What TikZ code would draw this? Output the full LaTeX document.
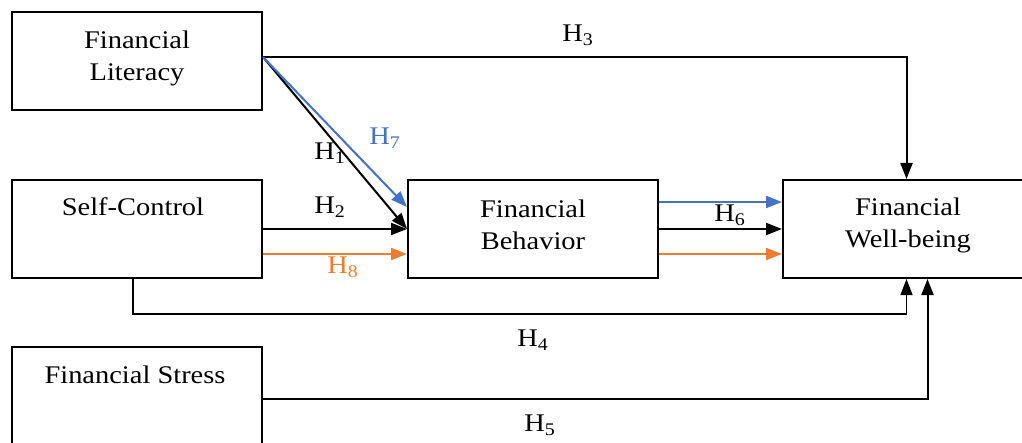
\documentclass[tikz,border=0pt]{standalone}
\usepackage{fontspec}
\setmainfont{Liberation Serif}[FakeStretch=1.12]
\usetikzlibrary{arrows.meta,calc}
\definecolor{hblue}{HTML}{4472C4}
\definecolor{horange}{HTML}{ED7D31}
\begin{document}
\begin{tikzpicture}[x=0.5pt,y=-0.5pt,
  box/.style={draw,line width=1pt,inner sep=0pt},
  txt/.style={align=center,inner sep=0pt,font=\fontsize{12.7}{16}\selectfont},
  lab/.style={inner sep=0pt,font=\fontsize{12.7}{15}\selectfont},
  conn/.style={line width=1pt,-{Triangle[length=8pt,width=6pt]}},
  thinconn/.style={line width=0.55pt,-{Triangle[length=8pt,width=6pt]}}]
\useasboundingbox (0,0) rectangle (1022,443);
% boxes
\node[box,minimum width=125pt,minimum height=49pt] (fl) at (137,61) {};
\node[box,minimum width=125pt,minimum height=49pt] (sc) at (137,229) {};
\node[box,minimum width=125pt,minimum height=56.5pt] (fs) at (137,403.5) {};
\node[box,minimum width=125pt,minimum height=49pt] (fb) at (533,229) {};
\node[box,minimum width=123.5pt,minimum height=49pt] (fwb) at (906.5,229) {};
% texts
\node[txt] (tfl) at (137,58) {Financial\\Literacy};
\node[txt] (tsc) at (133,207) {Self-Control};
\node[txt] (tfs) at (135,375) {Financial Stress};
\node[txt] (tfb) at (533,225) {Financial\\Behavior};
\node[txt] (tfwb) at (908,225) {Financial\\Well-being};
% connectors
\draw[conn] ([yshift=2pt]fl.east) -| (fwb.north);
\draw[conn] ([yshift=2pt]fl.east) -- (fb.west);
\draw[conn,hblue] ([yshift=2pt]fl.east) -- ([yshift=-14pt]fb.north west);
\draw[conn] (sc.east) -- (fb.west);
\draw[conn,horange] ([yshift=-12.5pt]sc.east) -- ([yshift=-12.5pt]fb.west);
\draw[conn,hblue] ([yshift=13.5pt]fb.east) -- ([yshift=13.5pt]fwb.west);
\draw[conn] (fb.east) -- (fwb.west);
\draw[conn,horange] ([yshift=-12.5pt]fb.east) -- ([yshift=-12.5pt]fwb.west);
\draw[thinconn] ([xshift=-2pt]sc.south) -- ++(0,35) -| (fwb.south);
\draw[conn] ([yshift=2.2pt]fs.east) -| ([xshift=10.5pt]fwb.south);
% labels
\node[lab] (h3) at (578,35) {H\textsubscript{3}};
\node[lab] (h1) at (330,153) {H\textsubscript{1}};
\node[lab,text=hblue] (h7) at (385,138) {H\textsubscript{7}};
\node[lab] (h2) at (330,207) {H\textsubscript{2}};
\node[lab,text=horange] (h8) at (343,267) {H\textsubscript{8}};
\node[lab] (h6) at (730,215) {H\textsubscript{6}};
\node[lab] (h4) at (533,340) {H\textsubscript{4}};
\node[lab] (h5) at (540,425) {H\textsubscript{5}};
\end{tikzpicture}
\end{document}
